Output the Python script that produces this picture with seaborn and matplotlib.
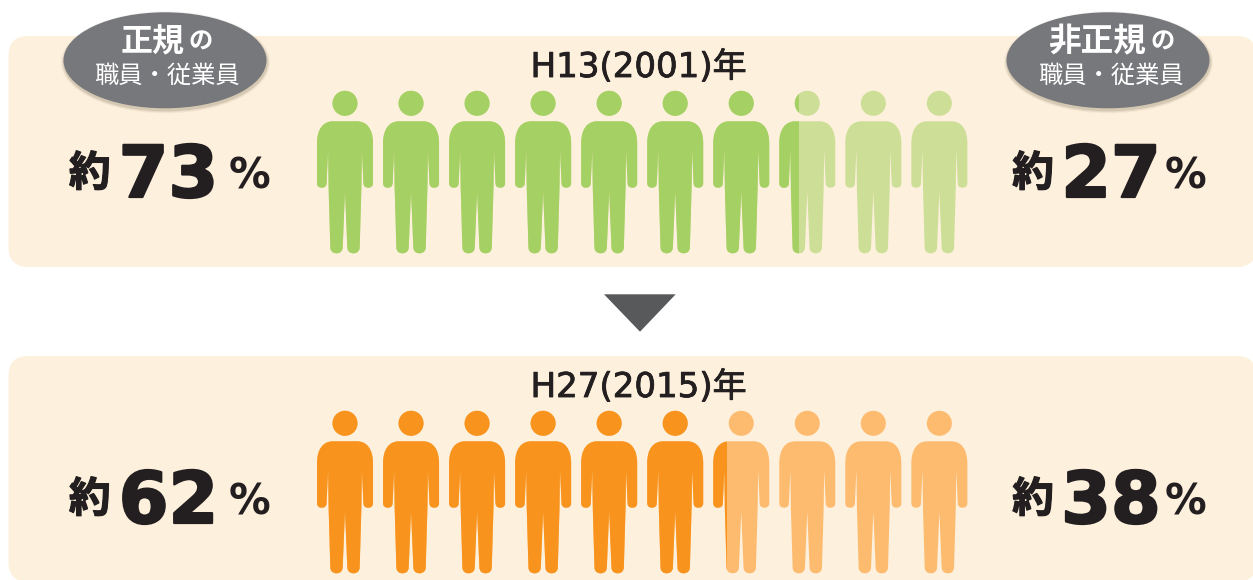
import seaborn as sns
import matplotlib
matplotlib.use("Agg")
import matplotlib.pyplot as plt
import matplotlib.patheffects as pe
import numpy as np
import pandas as pd
from matplotlib.patches import Ellipse, FancyBboxPatch, Polygon
from matplotlib.path import Path

year_labels = ["H13(2001)年", "H27(2015)年"]
regular_share = [73, 62]
nonregular_share = [27, 38]
regular_title = "正規"
nonregular_title = "非正規"
title_suffix = "の"
staff_label = "職員・従業員"
approx_label = "約"

dark_colors = ["#A5D063", "#F8941D"]
light_colors = ["#CDDE96", "#FDBB6F"]
PANEL_COLOR = "#FDF0DC"
BUBBLE_COLOR = "#77787B"
ARROW_COLOR = "#58595B"
TEXT_COLOR = "#231F20"

W, H = 1253, 580
N_PEOPLE = 10
ROW_STEP = 320
JP = ["Noto Sans CJK JP", "DejaVu Sans"]
LATIN = ["DejaVu Sans", "Noto Sans CJK JP"]


def person(cx, top):
    # right half of the body, then mirrored
    right = [(0, 0), (12, 0), (22, 0), (28, 8), (28, 22), (28, 61.7), (28, 65), (26, 66.4), (23.2, 66.4),
             (20.4, 66.4), (18.4, 65), (18.4, 61.7), (16.9, 28.7), (16.4, 66), (14.7, 125.8),
             (14.7, 130), (12, 132), (8.5, 132), (5, 132), (2.3, 130), (2.3, 125.8), (0, 70.3)]
    L, C = Path.LINETO, Path.CURVE4
    codes = [Path.MOVETO, L, C, C, C, L, C, C, C, C, C, C, L, L, L, C, C, C, C, C, C, L]
    left = [(-x, y) for x, y in right[-2::-1]]
    left_codes = codes[:0:-1]
    verts = np.array(right + left, dtype=float) + [cx, top]
    body = Path(verts, codes + left_codes)
    head = Path.circle((cx, top - 18), 12.5)
    return Path.make_compound_path(head, body)


def bubble(ax, cx, cy):
    for grow, alpha in [(3, 0.05), (2, 0.08), (1, 0.12)]:
        ax.add_patch(Ellipse((cx + 0.5, cy + 2), 203 + grow * 2, 96 + grow * 2, color="#5A4A30", alpha=alpha, lw=0))
    ax.add_patch(Ellipse((cx, cy), 203, 96, color=BUBBLE_COLOR, lw=0))


def share_row(bg, row, x_left, x_num, x_pct, value):
    dy = ROW_STEP * row + (6 if row else 0)
    heavy = [pe.withStroke(linewidth=1.6, foreground=TEXT_COLOR)]
    bg.text(x_left, 174 + dy, approx_label, family=JP, fontsize=30, fontweight="bold",
            color=TEXT_COLOR, ha="center", va="center", path_effects=[pe.withStroke(linewidth=0.9, foreground=TEXT_COLOR)])
    bg.text(x_num, 197 + dy, str(value), family=LATIN, fontsize=51.5, fontweight="bold",
            color=TEXT_COLOR, ha="center", va="baseline", path_effects=heavy)
    bg.text(x_pct, 188.5 + dy, "%", family=LATIN, fontsize=30, fontweight="bold",
            color=TEXT_COLOR, ha="center", va="baseline")


def main():
    sns.set_theme(style="white")
    plt.rcParams["font.family"] = JP

    fig = plt.figure(figsize=(W / 100, H / 100), dpi=100, facecolor="white")
    bg = fig.add_axes([0, 0, 1, 1])
    bg.set_xlim(0, W)
    bg.set_ylim(H, 0)
    bg.axis("off")

    for top, bottom in [(36, 267), (356, 582)]:
        bg.add_patch(FancyBboxPatch((8.5, top), 1248, bottom - top, boxstyle="round,pad=0,rounding_size=20",
                                    facecolor=PANEL_COLOR, edgecolor="none"))
    bg.add_patch(Polygon([(604, 294.3), (675.7, 294.3), (640, 331.7)], color=ARROW_COLOR, lw=0))

    bubble(bg, 165, 60.3)
    bubble(bg, 1108, 60.3)
    bg.text(153, 42, regular_title, family=JP, fontsize=23, fontweight="bold", color="white", ha="center", va="center")
    bg.text(200.5, 42, title_suffix, family=JP, fontsize=17.5, fontweight="bold", color="white", ha="center", va="center")
    bg.text(166.7, 76, staff_label, family=JP, fontsize=17.5, color="white", ha="center", va="center")
    bg.text(1097.5, 42, nonregular_title, family=JP, fontsize=23.5, fontweight="bold", color="white", ha="center", va="center")
    bg.text(1162.5, 42, title_suffix, family=JP, fontsize=17.5, fontweight="bold", color="white", ha="center", va="center")
    bg.text(1111, 76, staff_label, family=JP, fontsize=17.5, color="white", ha="center", va="center")

    for row, label in enumerate(year_labels):
        bg.text(638.5, 77 + ROW_STEP * row, label, family=LATIN, fontsize=24.5, color=TEXT_COLOR,
                ha="center", va="baseline", path_effects=[pe.withStroke(linewidth=0.6, foreground=TEXT_COLOR)])
        share_row(bg, row, 89.7, 168.5, 250, regular_share[row])
        share_row(bg, row, 1033, 1111, 1186, nonregular_share[row])

        # people silhouette clips a stacked share bar
        top = 121.3 + ROW_STEP * row
        people = Path.make_compound_path(*[person(345 + 66.04 * i, top) for i in range(N_PEOPLE)])
        ax = fig.add_axes([316.5 / W, 1 - (top + 135) / H, 661.6 / W, 170 / H])
        df = pd.DataFrame({"year": [label], "regular": [regular_share[row]],
                           "total": [regular_share[row] + nonregular_share[row]]})
        sns.barplot(data=df, x="total", y="year", color=light_colors[row], saturation=1, width=1, linewidth=0, ax=ax)
        sns.barplot(data=df, x="regular", y="year", color=dark_colors[row], saturation=1, width=1, linewidth=0, ax=ax)
        ax.set_xlim(0, 100)
        ax.set_ylim(0.5, -0.5)
        ax.axis("off")
        for bar in ax.patches:
            bar.set_clip_path(people, bg.transData)

    fig.savefig("out.png", dpi=100, facecolor="white")
    plt.close(fig)


if __name__ == "__main__":
    main()
